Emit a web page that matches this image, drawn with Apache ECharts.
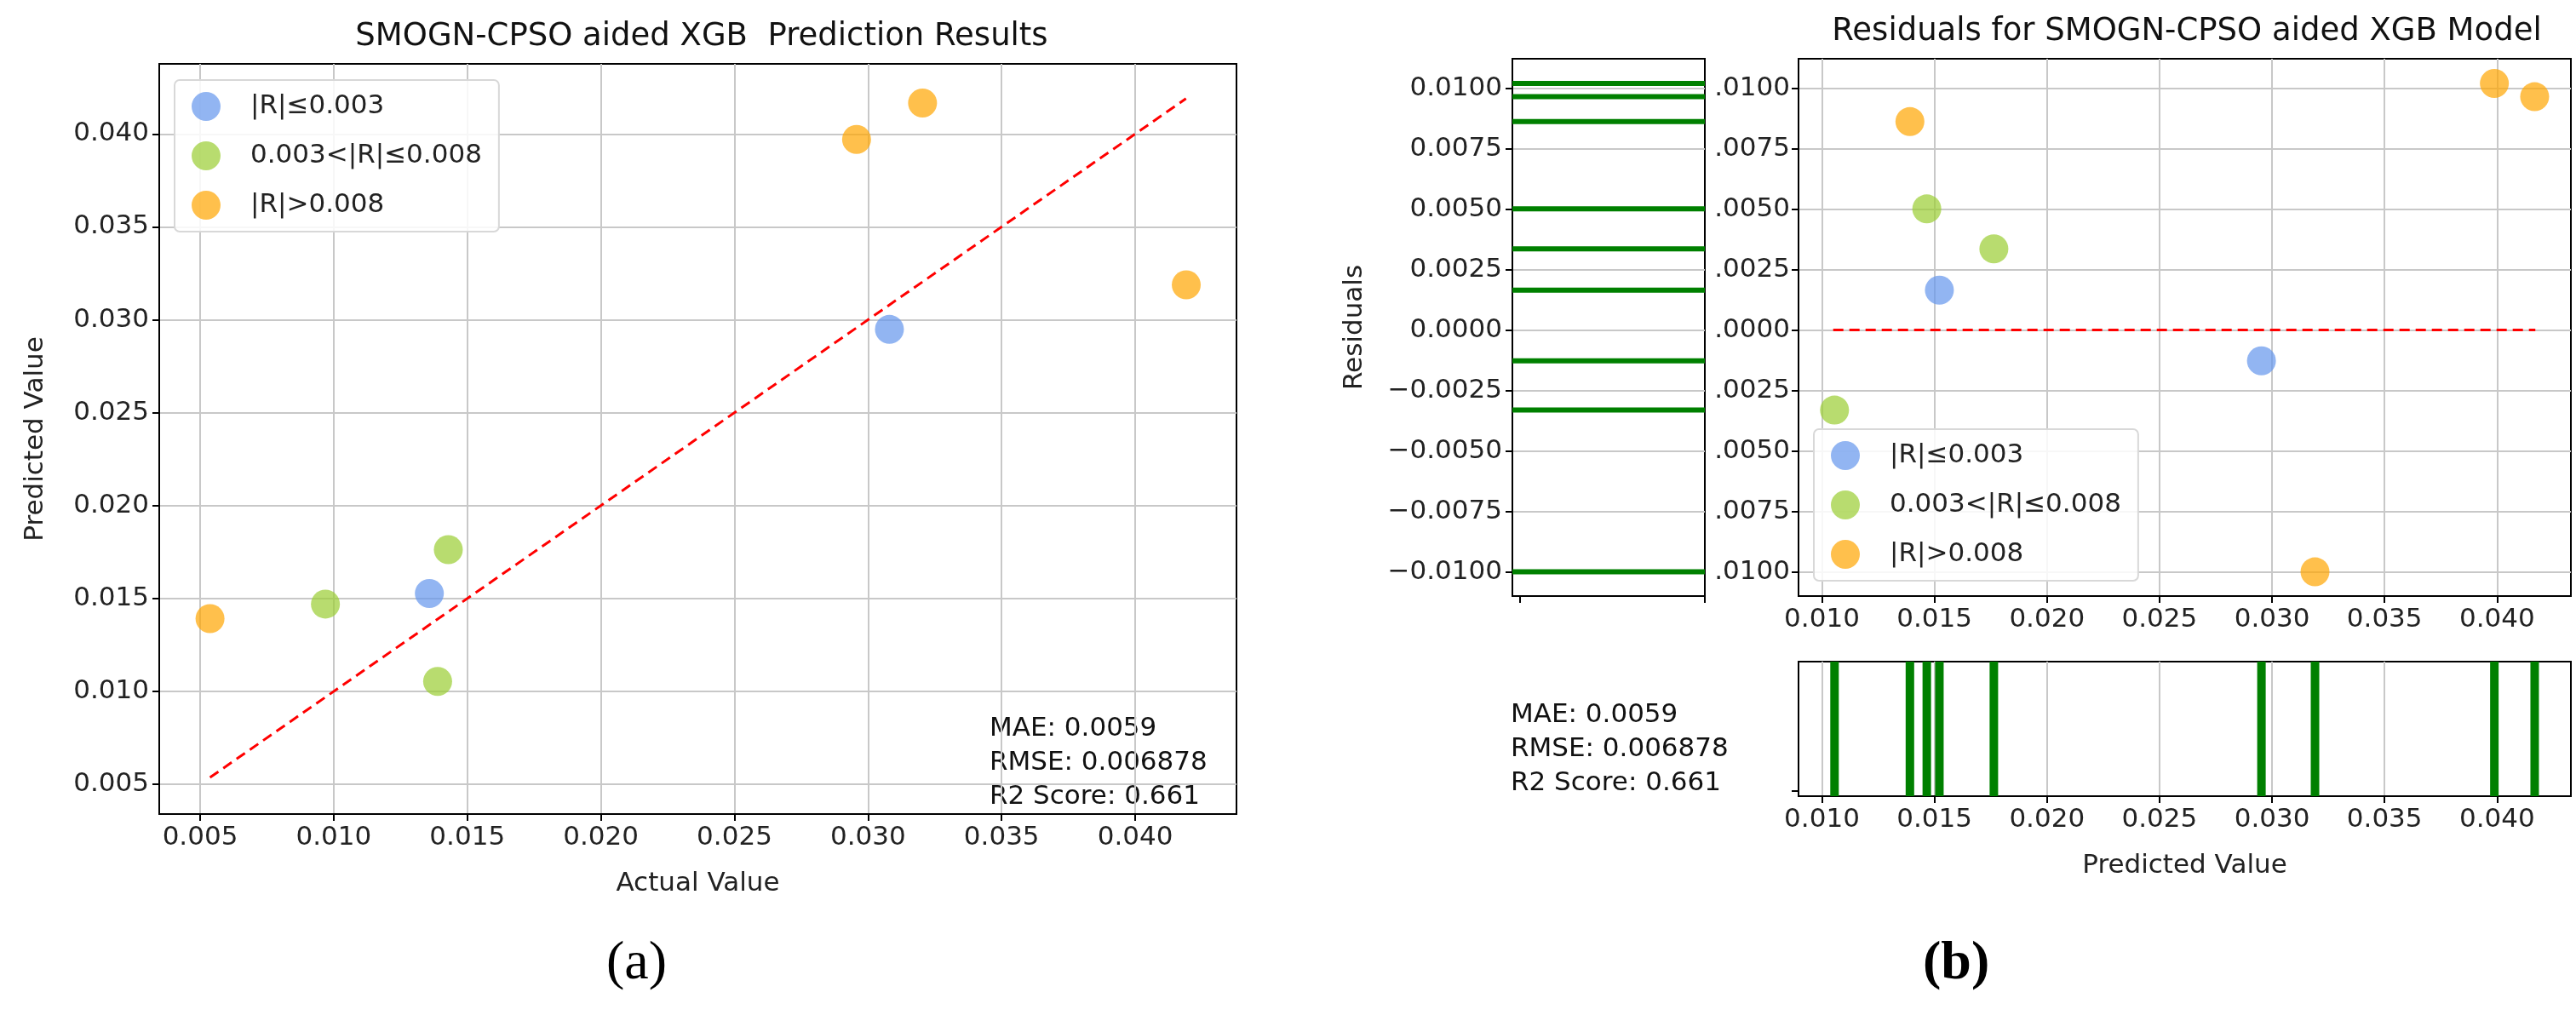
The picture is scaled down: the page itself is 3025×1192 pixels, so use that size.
<!DOCTYPE html>
<html><head><meta charset="utf-8">
<script src="https://cdn.jsdelivr.net/npm/echarts@6/dist/echarts.min.js"></script>
<style>html,body{margin:0;padding:0;background:#fff}#c{width:3025px;height:1192px}</style>
</head><body><div id="c"></div>
<script>
// Panel (a): actual vs predicted
const lowA_x = [0.01358, 0.0308];
const lowA_y = [0.01527, 0.02948];
const midA_x = [0.00969, 0.01429, 0.01389];
const midA_y = [0.0147, 0.01763, 0.01054];
const highA_x = [0.00537, 0.02957, 0.03204, 0.04191];
const highA_y = [0.01392, 0.0397, 0.04166, 0.03188];
const diag = [0.00537, 0.0419];
const ticksA_x = [0.005,0.010,0.015,0.020,0.025,0.030,0.035,0.040];
const ticksA_y = [0.005,0.010,0.015,0.020,0.025,0.030,0.035,0.040];
// Panel (b): predicted vs residual
const lowB_x = [0.01522, 0.02953];
const lowB_y = [0.00165, -0.00127];
const midB_x = [0.01466, 0.01764, 0.01056];
const midB_y = [0.00501, 0.00336, -0.00331];
const highB_x = [0.01391, 0.03191, 0.03988, 0.04167];
const highB_y = [0.00862, -0.0100, 0.0102, 0.00965];
const zeroLine = [0.0105, 0.0417];
const ticksB_x = [0.010,0.015,0.020,0.025,0.030,0.035,0.040];
const ticksB_y = [-0.0100,-0.0075,-0.0050,-0.0025,0,0.0025,0.0050,0.0075,0.0100];
const names = ['|R|\u22640.003','0.003<|R|\u22640.008','|R|>0.008'];
const colors = ['#6495ED','#9ACD32','#FFA500'];
const statsText = 'MAE: 0.0059\nRMSE: 0.006878\nR2 Score: 0.661';

const F = 'DejaVu Sans';
const FS = 31;
const zip = (a,b)=>a.map((v,i)=>[v,b[i]]);
const gridLine = {show:true, lineStyle:{color:'#c8c8c8', width:2}};
const axLine = {show:true, onZero:false, lineStyle:{color:'#000', width:2}};
const tick = {show:true, length:8, lineStyle:{color:'#000', width:2}};
const nameStyle = {fontFamily:F, fontSize:FS, color:'#222'};
function valAxis(gi, min, max, ticks, dec, extra){
  return Object.assign({type:'value', gridIndex:gi, min, max, axisLine:axLine,
    axisTick:Object.assign({customValues:ticks}, tick),
    axisLabel:{customValues:ticks, formatter:v=>v.toFixed(dec), fontFamily:F, fontSize:FS, color:'#222', margin:12},
    splitLine:gridLine}, extra||{});
}
const chart = echarts.init(document.getElementById('c'));
const sc = (name, c, data, xi, yi) => ({type:'scatter', name, xAxisIndex:xi, yAxisIndex:yi, data,
  symbolSize:34, itemStyle:{color:c, opacity:0.7}, z:5});
const legendBase = {orient:'vertical', data:names, icon:'circle', itemWidth:34, itemHeight:34, itemGap:24,
  backgroundColor:'rgba(255,255,255,0.85)', borderColor:'#d8d8d8', borderWidth:2, borderRadius:6, padding:[14,20,14,20],
  textStyle:{fontFamily:F, fontSize:FS, color:'#222', padding:[0,0,0,30]}};
const predRug = [].concat(lowB_x, midB_x, highB_x);
const resRug = [].concat(lowB_y, midB_y, highB_y);
function rug(xi, yi, vals, horiz, w){
  return {type:'custom', xAxisIndex:xi, yAxisIndex:yi, data:vals.map(v=>[v]), silent:true,
    renderItem:(params, api)=>{
      const v = api.value(0);
      const a = horiz ? api.coord([0, v]) : api.coord([v, 0]);
      const b = horiz ? api.coord([1, v]) : api.coord([v, 1]);
      return {type:'line', shape:{x1:a[0], y1:a[1], x2:b[0], y2:b[1]}, style:{stroke:'#008000', lineWidth:w}};
    }};
}
chart.setOption({
  animation:false,
  title:[
    {text:'SMOGN-CPSO aided XGB  Prediction Results', left:819, top:20, textAlign:'center', textStyle:{fontFamily:F, fontSize:37, fontWeight:'normal', color:'#111'}},
    {text:'Residuals for SMOGN-CPSO aided XGB Model', left:2563, top:14, textAlign:'center', textStyle:{fontFamily:F, fontSize:37, fontWeight:'normal', color:'#111'}}
  ],
  graphic:[
    {type:'text', left:1162, top:836, style:{text:statsText, fontFamily:F, fontSize:FS, lineHeight:40, fill:'#111'}},
    {type:'text', left:1774, top:820, style:{text:statsText, fontFamily:F, fontSize:FS, lineHeight:40, fill:'#111'}},
    {type:'text', left:712, top:1100, style:{text:'(a)', fontFamily:'Liberation Serif', fontSize:64, fill:'#000'}},
    {type:'text', left:2258, top:1100, style:{text:'(b)', fontFamily:'Liberation Serif', fontSize:64, fontWeight:'bold', fill:'#000'}}
  ],
  legend:[
    Object.assign({left:205, top:94}, legendBase),
    Object.assign({left:2130, top:504}, legendBase)
  ],
  grid:[
    {left:187, top:75, width:1265, height:881, show:true, borderColor:'#000', borderWidth:2},
    {left:2112, top:69, width:907, height:631, show:true, borderColor:'#000', borderWidth:2},
    {left:1776, top:69, width:226, height:631, show:true, borderColor:'#000', borderWidth:2},
    {left:2112, top:777, width:907, height:158, show:true, borderColor:'#000', borderWidth:2}
  ],
  xAxis:[
    valAxis(0, 0.00347, 0.04379, ticksA_x, 3, {name:'Actual Value', nameLocation:'middle', nameGap:66, nameTextStyle:nameStyle}),
    valAxis(1, 0.00896, 0.04328, ticksB_x, 3),
    {type:'value', gridIndex:2, min:0, max:1, axisLine:axLine, axisLabel:{show:false}, splitLine:{show:false},
      axisTick:Object.assign({customValues:[0.04,1]}, tick)},
    valAxis(3, 0.00896, 0.04328, ticksB_x, 3, {name:'Predicted Value', nameLocation:'middle', nameGap:66, nameTextStyle:nameStyle})
  ],
  yAxis:[
    valAxis(0, 0.0034, 0.04377, ticksA_y, 3, {name:'Predicted Value', nameLocation:'middle', nameGap:130, nameTextStyle:nameStyle}),
    valAxis(1, -0.0110, 0.01122, ticksB_y, 4, {axisLabel:{customValues:ticksB_y, formatter:v=>v.toFixed(4).slice(-5), fontFamily:F, fontSize:FS, color:'#222', margin:10}}),
    valAxis(2, -0.0110, 0.01122, ticksB_y, 4, {axisLabel:{customValues:ticksB_y, formatter:v=>(v<0?'\u2212':'')+Math.abs(v).toFixed(4), fontFamily:F, fontSize:FS, color:'#222', margin:12},
      name:'Residuals', nameLocation:'middle', nameGap:170, nameTextStyle:nameStyle}),
    {type:'value', gridIndex:3, min:0, max:1, axisLine:axLine, axisLabel:{show:false}, splitLine:{show:false},
      axisTick:Object.assign({customValues:[0.04]}, tick)}
  ],
  series:[
    sc(names[0], colors[0], zip(lowA_x, lowA_y), 0, 0),
    sc(names[1], colors[1], zip(midA_x, midA_y), 0, 0),
    sc(names[2], colors[2], zip(highA_x, highA_y), 0, 0),
    {type:'line', xAxisIndex:0, yAxisIndex:0, data:zip(diag, diag), symbol:'none', lineStyle:{color:'#ff0000', width:3, type:[12,7]}, z:4},
    sc(names[0], colors[0], zip(lowB_x, lowB_y), 1, 1),
    sc(names[1], colors[1], zip(midB_x, midB_y), 1, 1),
    sc(names[2], colors[2], zip(highB_x, highB_y), 1, 1),
    {type:'line', xAxisIndex:1, yAxisIndex:1, data:zip(zeroLine, [0,0]), symbol:'none', lineStyle:{color:'#ff0000', width:3, type:[12,7]}, z:4},
    rug(2, 2, resRug, true, 6),
    rug(3, 3, predRug, false, 10)
  ]
});
</script></body></html>
